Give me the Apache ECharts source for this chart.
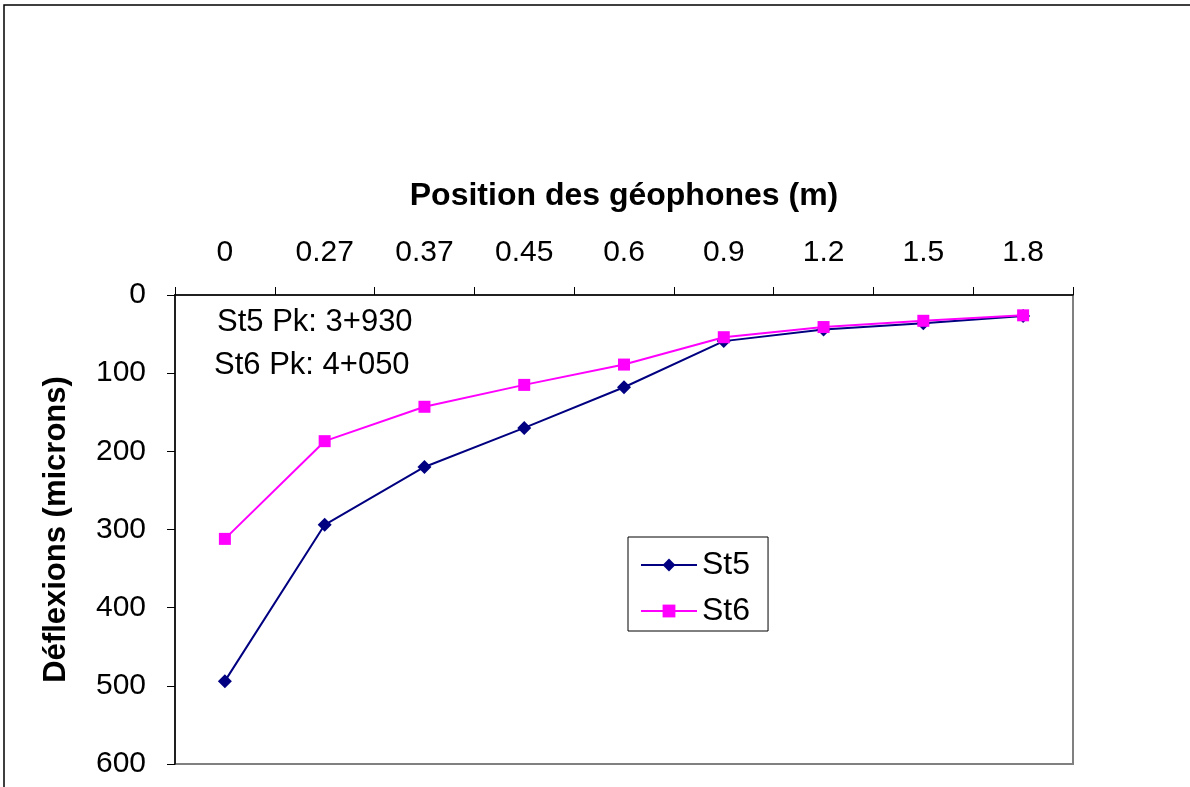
<!DOCTYPE html>
<html>
<head>
<meta charset="utf-8">
<script src="https://cdn.jsdelivr.net/npm/echarts@6/dist/echarts.min.js"></script>
<style>
  html, body { margin: 0; padding: 0; background: #fff; }
  #chart { width: 1190px; height: 787px; }
</style>
</head>
<body>
<div id="chart"></div>
<script>
// Geophone positions (m) and measured deflections (microns)
const positions = ['0', '0.27', '0.37', '0.45', '0.6', '0.9', '1.2', '1.5', '1.8'];
const st5 = [494, 294, 220, 170, 118, 59, 44, 36, 27];
const st6 = [312, 187, 143, 115, 89, 54, 41, 33, 26];
const notes = ['St5 Pk: 3+930', 'St6 Pk: 4+050'];

const FONT = '"Liberation Sans", Arial, sans-serif';
const chart = echarts.init(document.getElementById('chart'));

chart.setOption({
  backgroundColor: '#fff',
  animation: false,
  textStyle: { fontFamily: FONT },
  grid: { left: 175, top: 295, width: 898, height: 469, show: true, borderColor: '#808080', borderWidth: 2 },
  xAxis: {
    type: 'category',
    position: 'top',
    data: positions,
    boundaryGap: true,
    name: 'Position des géophones (m)',
    nameLocation: 'middle',
    nameGap: 83,
    nameTextStyle: { fontFamily: FONT, fontSize: 32, fontWeight: 'bold', color: '#000' },
    axisLine: { lineStyle: { color: '#000', width: 1.5 } },
    axisTick: { show: true, length: 8, lineStyle: { color: '#000' } },
    axisLabel: { fontFamily: FONT, fontSize: 30, color: '#000', margin: 27 },
    splitLine: { show: false }
  },
  yAxis: {
    type: 'value',
    inverse: true,
    min: 0,
    max: 600,
    interval: 100,
    name: 'Déflexions (microns)',
    nameLocation: 'middle',
    nameGap: 103,
    nameRotate: 90,
    nameTextStyle: { fontFamily: FONT, fontSize: 31, fontWeight: 'bold', color: '#000' },
    axisLine: { show: true, lineStyle: { color: '#000', width: 1.5 } },
    axisTick: { show: true, length: 8, lineStyle: { color: '#000' } },
    axisLabel: { fontFamily: FONT, fontSize: 30, color: '#000', margin: 29 },
    splitLine: { show: false }
  },
  legend: {
    orient: 'vertical',
    left: 628,
    top: 537,
    padding: [12, 18, 4, 12],
    borderColor: '#000',
    borderWidth: 1,
    itemWidth: 56,
    itemHeight: 16,
    itemGap: 14,
    textStyle: { fontFamily: FONT, fontSize: 32, color: '#000' },
    data: ['St5', 'St6']
  },
  graphic: [
    {
      type: 'rect',
      shape: { x: 4, y: 5, width: 1200, height: 800 },
      style: { fill: 'none', stroke: '#000', lineWidth: 1.5 },
      silent: true, z: -1
    },
    {
      type: 'text',
      left: 217, top: 307,
      style: { text: notes[0], font: '31px ' + FONT, fill: '#000' }
    },
    {
      type: 'text',
      left: 214, top: 350,
      style: { text: notes[1], font: '31px ' + FONT, fill: '#000' }
    }
  ],
  series: [
    {
      name: 'St5',
      type: 'line',
      data: st5,
      symbol: 'diamond',
      symbolSize: 14,
      itemStyle: { color: '#000080' },
      lineStyle: { color: '#000080', width: 2 },
      z: 2
    },
    {
      name: 'St6',
      type: 'line',
      data: st6,
      symbol: 'rect',
      symbolSize: 12,
      itemStyle: { color: '#ff00ff' },
      lineStyle: { color: '#ff00ff', width: 2 },
      z: 3
    }
  ]
});
</script>
</body>
</html>
